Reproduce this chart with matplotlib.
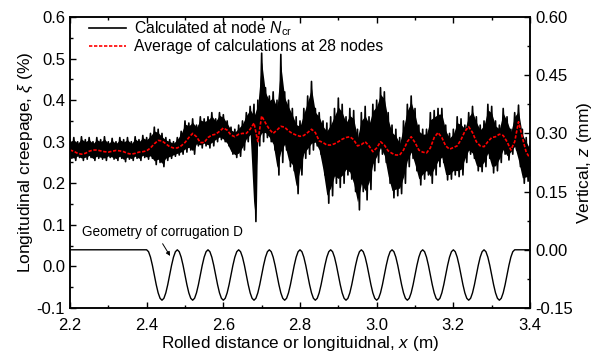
import numpy as np
import matplotlib
matplotlib.use('Agg')
import matplotlib.pyplot as plt
from matplotlib.ticker import MultipleLocator

plt.rcParams['font.family'] = ['Liberation Sans', 'DejaVu Sans']
plt.rcParams['mathtext.fontset'] = 'custom'
plt.rcParams['mathtext.it'] = 'Liberation Sans:italic'
plt.rcParams['mathtext.rm'] = 'Liberation Sans'

# creepage at node Ncr: upper / lower envelope of the oscillation, 0.01 m grid
x_env = np.round(np.arange(2.20, 3.401, 0.01), 3)
creep_hi = [
    0.305, 0.310, 0.300, 0.312, 0.305, 0.310, 0.300, 0.310, 0.305, 0.312,
    0.300, 0.308, 0.300, 0.310, 0.305, 0.310, 0.300, 0.312, 0.305, 0.315,
    0.310, 0.320, 0.335, 0.330, 0.320, 0.310, 0.305, 0.300, 0.310, 0.325,
    0.350, 0.345, 0.355, 0.340, 0.360, 0.355, 0.360, 0.370, 0.355, 0.370,
    0.365, 0.350, 0.335, 0.330, 0.340, 0.350, 0.370, 0.385, 0.390, 0.400,
    0.513, 0.430, 0.410, 0.420, 0.400, 0.510, 0.420, 0.400, 0.380, 0.360,
    0.350, 0.380, 0.410, 0.445, 0.380, 0.370, 0.350, 0.345, 0.360, 0.380,
    0.405, 0.390, 0.360, 0.380, 0.375, 0.330, 0.370, 0.385, 0.360, 0.390,
    0.400, 0.430, 0.420, 0.370, 0.340, 0.330, 0.310, 0.350, 0.390, 0.410,
    0.380, 0.340, 0.330, 0.330, 0.370, 0.375, 0.380, 0.380, 0.340, 0.320,
    0.330, 0.360, 0.355, 0.340, 0.370, 0.385, 0.360, 0.340, 0.350, 0.390,
    0.385, 0.350, 0.340, 0.380, 0.360, 0.330, 0.370, 0.388, 0.330, 0.310,
    0.290,
]
creep_lo = [
    0.260, 0.255, 0.262, 0.255, 0.258, 0.262, 0.255, 0.260, 0.258, 0.255,
    0.262, 0.258, 0.255, 0.260, 0.252, 0.258, 0.255, 0.260, 0.255, 0.262,
    0.258, 0.260, 0.245, 0.250, 0.240, 0.255, 0.260, 0.265, 0.268, 0.270,
    0.275, 0.280, 0.270, 0.290, 0.285, 0.290, 0.285, 0.290, 0.300, 0.305,
    0.300, 0.290, 0.270, 0.262, 0.265, 0.280, 0.300, 0.310, 0.108, 0.290,
    0.300, 0.310, 0.300, 0.280, 0.220, 0.250, 0.280, 0.240, 0.230, 0.175,
    0.220, 0.260, 0.270, 0.280, 0.290, 0.270, 0.220, 0.152, 0.170, 0.200,
    0.190, 0.200, 0.220, 0.210, 0.180, 0.136, 0.180, 0.160, 0.185, 0.230,
    0.250, 0.270, 0.250, 0.200, 0.165, 0.170, 0.175, 0.200, 0.240, 0.260,
    0.230, 0.196, 0.210, 0.220, 0.200, 0.220, 0.240, 0.250, 0.208, 0.210,
    0.220, 0.216, 0.220, 0.250, 0.270, 0.260, 0.230, 0.228, 0.240, 0.260,
    0.225, 0.230, 0.250, 0.270, 0.256, 0.270, 0.280, 0.240, 0.200, 0.205,
    0.210,
]

# average of calculations at 28 nodes, same grid
creep_avg = [
    0.280, 0.277, 0.272, 0.270, 0.272, 0.277, 0.280, 0.280, 0.278, 0.276,
    0.275, 0.277, 0.279, 0.278, 0.276, 0.272, 0.270, 0.272, 0.275, 0.276,
    0.278, 0.285, 0.295, 0.303, 0.302, 0.295, 0.288, 0.285, 0.285, 0.290,
    0.298, 0.310, 0.320, 0.312, 0.298, 0.298, 0.310, 0.316, 0.318, 0.325,
    0.333, 0.328, 0.316, 0.312, 0.318, 0.320, 0.320, 0.330, 0.345, 0.300,
    0.362, 0.345, 0.330, 0.320, 0.328, 0.337, 0.335, 0.326, 0.320, 0.316,
    0.313, 0.315, 0.322, 0.330, 0.322, 0.302, 0.298, 0.292, 0.292, 0.295,
    0.300, 0.306, 0.310, 0.312, 0.305, 0.290, 0.293, 0.300, 0.290, 0.276,
    0.285, 0.300, 0.292, 0.278, 0.272, 0.268, 0.268, 0.280, 0.300, 0.312,
    0.298, 0.280, 0.275, 0.273, 0.285, 0.310, 0.322, 0.310, 0.290, 0.282,
    0.286, 0.290, 0.305, 0.325, 0.336, 0.322, 0.300, 0.290, 0.288, 0.300,
    0.310, 0.312, 0.318, 0.315, 0.300, 0.280, 0.300, 0.348, 0.310, 0.275,
    0.260,
]

# corrugation D geometry (mm), 0.005 m grid
x_corr = np.round(np.arange(2.200, 3.4001, 0.005), 4)
corr_flat_in = [0.0] * 40
corr_wave = [
    0.0, -0.005, -0.019, -0.040, -0.065, -0.090, -0.111, -0.125, -0.130, -0.125, -0.111, -0.090, -0.065, -0.040, -0.019, -0.005,
    0.0, -0.005, -0.019, -0.040, -0.065, -0.090, -0.111, -0.125, -0.130, -0.125, -0.111, -0.090, -0.065, -0.040, -0.019, -0.005,
    0.0, -0.005, -0.019, -0.040, -0.065, -0.090, -0.111, -0.125, -0.130, -0.125, -0.111, -0.090, -0.065, -0.040, -0.019, -0.005,
    0.0, -0.005, -0.019, -0.040, -0.065, -0.090, -0.111, -0.125, -0.130, -0.125, -0.111, -0.090, -0.065, -0.040, -0.019, -0.005,
    0.0, -0.005, -0.019, -0.040, -0.065, -0.090, -0.111, -0.125, -0.130, -0.125, -0.111, -0.090, -0.065, -0.040, -0.019, -0.005,
    0.0, -0.005, -0.019, -0.040, -0.065, -0.090, -0.111, -0.125, -0.130, -0.125, -0.111, -0.090, -0.065, -0.040, -0.019, -0.005,
    0.0, -0.005, -0.019, -0.040, -0.065, -0.090, -0.111, -0.125, -0.130, -0.125, -0.111, -0.090, -0.065, -0.040, -0.019, -0.005,
    0.0, -0.005, -0.019, -0.040, -0.065, -0.090, -0.111, -0.125, -0.130, -0.125, -0.111, -0.090, -0.065, -0.040, -0.019, -0.005,
    0.0, -0.005, -0.019, -0.040, -0.065, -0.090, -0.111, -0.125, -0.130, -0.125, -0.111, -0.090, -0.065, -0.040, -0.019, -0.005,
    0.0, -0.005, -0.019, -0.040, -0.065, -0.090, -0.111, -0.125, -0.130, -0.125, -0.111, -0.090, -0.065, -0.040, -0.019, -0.005,
    0.0, -0.005, -0.019, -0.040, -0.065, -0.090, -0.111, -0.125, -0.130, -0.125, -0.111, -0.090, -0.065, -0.040, -0.019, -0.005,
    0.0, -0.005, -0.019, -0.040, -0.065, -0.090, -0.111, -0.125, -0.130, -0.125, -0.111, -0.090, -0.065, -0.040, -0.019, -0.005,
]
corr_flat_out = [0.0] * 9
corr_z = corr_flat_in + corr_wave + corr_flat_out

fig = plt.figure(figsize=(5.95, 3.58), dpi=100)
ax = fig.add_axes([0.1176, 0.1397, 0.7732, 0.8128])
ax2 = ax.twinx()

# node Ncr: zigzag between the envelopes, core of the band filled solid
hi = np.asarray(creep_hi)
lo = np.asarray(creep_lo)
span = hi - lo
ax.fill_between(x_env, lo + 0.1 * span, hi - 0.1 * span, color='black', lw=0)
zx = np.empty(2 * len(x_env))
zy = np.empty(2 * len(x_env))
zx[0::2] = x_env
zx[1::2] = x_env + 0.005
zy[0::2] = hi
zy[1::2] = lo
ax.plot(zx, zy, color='black', lw=1.2,
        label=r'Calculated at node $\mathit{N}_{\rm cr}$')
ax.plot(x_env, creep_avg, color='red', lw=1.2, ls=(0, (2, 1)),
        label='Average of calculations at 28 nodes')

ax2.plot(x_corr, corr_z, color='black', lw=1.0)
ax2.annotate('Geometry of corrugation D', xy=(2.465, -0.022),
             xytext=(2.232, 0.047), fontsize=9.8, va='center',
             arrowprops=dict(arrowstyle='-|>', color='black', lw=0.7,
                             mutation_scale=6,
                             relpos=(0.48, 0.0)))

ax.set_xlim(2.2, 3.4)
ax.set_ylim(-0.1, 0.6)
ax2.set_ylim(-0.15, 0.60)
ax.xaxis.set_minor_locator(MultipleLocator(0.1))
ax.yaxis.set_minor_locator(MultipleLocator(0.05))
ax2.yaxis.set_minor_locator(MultipleLocator(0.075))
ax.set_xticks(np.round(np.arange(2.2, 3.41, 0.2), 1))
ax.set_xticklabels(['2.2', '2.4', '2.6', '2.8', '3.0', '3.2', '3.4'])
ax.set_yticks(np.round(np.arange(-0.1, 0.61, 0.1), 1))
ax.set_yticklabels(['-0.1', '0.0', '0.1', '0.2', '0.3', '0.4', '0.5', '0.6'])
ax2.set_yticks([-0.15, 0.0, 0.15, 0.30, 0.45, 0.60])
ax2.set_yticklabels(['-0.15', '0.00', '0.15', '0.30', '0.45', '0.60'])

ax.tick_params(which='both', direction='in', top=True, labelsize=12, width=1)
ax.tick_params(which='major', length=4)
ax.tick_params(which='minor', length=2.5)
ax.tick_params(axis='x', pad=7)
ax2.tick_params(which='both', direction='in', labelsize=12, width=1)
ax2.tick_params(which='major', length=4)
ax2.tick_params(which='minor', length=2.5)
for a in (ax, ax2):
    for s in a.spines.values():
        s.set_linewidth(1.1)

ax.set_xlabel(r'Rolled distance or longituidnal, $x$ (m)', fontsize=12.3, labelpad=1)
ax.set_ylabel(r'Longitudinal creepage, $\xi$ (%)', fontsize=12.5, labelpad=1)
ax2.set_ylabel(r'Vertical, $z$ (mm)', fontsize=12.5, labelpad=2)

ax.legend(loc='upper left', bbox_to_anchor=(0.02, 1.025), frameon=False,
          fontsize=11.3, handlelength=2.4, handletextpad=0.5,
          labelspacing=0.1, borderaxespad=0.2)

fig.savefig('out.png', dpi=100)
plt.close(fig)
